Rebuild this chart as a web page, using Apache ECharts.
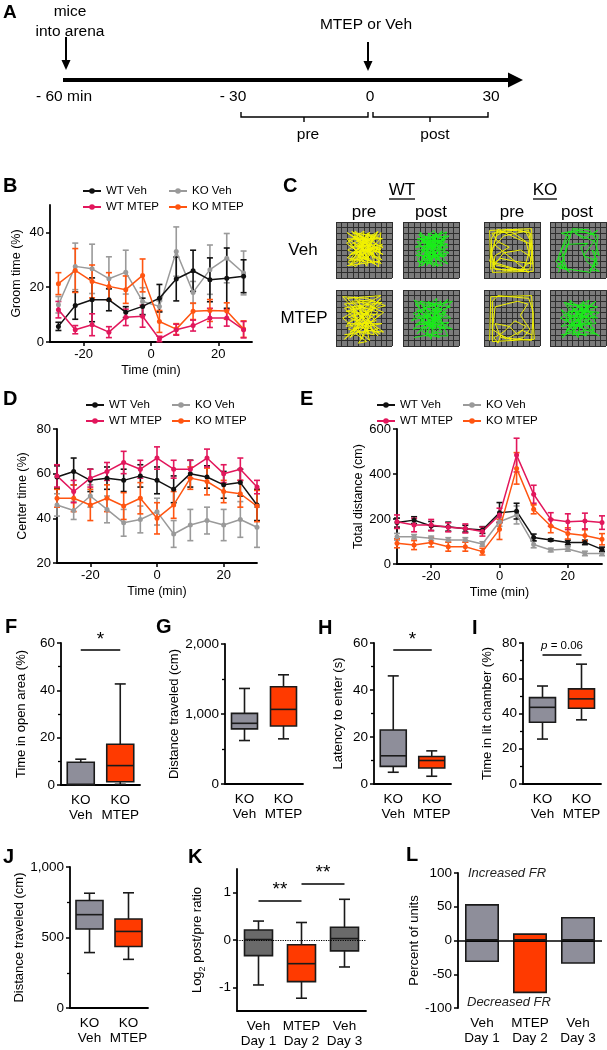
<!DOCTYPE html>
<html><head><meta charset="utf-8">
<script src="https://cdn.jsdelivr.net/npm/echarts@6/dist/echarts.min.js"></script>
<style>html,body{margin:0;padding:0;background:#fff}#c{width:607px;height:1050px}</style>
</head><body><div id="c"></div>
<script>
// ---------------- DATA ----------------
const aTickLabels = ['- 60 min', '- 30', '0', '30'];

// B: groom time (%)
const bTime = [-27.5, -22.5, -17.5, -12.5, -7.5, -2.5, 2.5, 7.5, 12.5, 17.5, 22.5, 27.5];
const bWtVeh = [5.7, 13.3, 15.4, 15.4, 10.9, 13.0, 16.0, 23.0, 26.0, 22.7, 23.3, 24.0];
const bWtVehErr = [1.5, 5, 8, 4, 2, 3, 5, 8, 7.5, 8, 11, 6];
const bKoVeh = [13.6, 27.6, 26.7, 23.1, 25.5, 14.8, 13.0, 33.0, 18.1, 26.4, 30.6, 25.2];
const bKoVehErr = [3, 8.5, 9, 8, 8, 5, 2, 9, 4, 9, 9, 8];
const bWtMtep = [11.8, 4.5, 6.3, 3.6, 9.0, 9.4, 1.1, 4.5, 6.0, 8.8, 8.8, 4.5];
const bWtMtepErr = [3, 1.5, 4, 2, 3, 4, 1, 2, 2, 3.5, 3, 3];
const bKoMtep = [21.3, 26.1, 22.1, 20.3, 19.1, 24.3, 7.5, 4.7, 11.2, 11.5, 11.3, 4.7];
const bKoMtepErr = [4, 8, 6, 5, 5, 6, 4, 2, 3, 4, 3, 3];

// D: center time (%)
const dTime = [-30, -25, -20, -15, -10, -5, 0, 5, 10, 15, 20, 25, 30];
const dWtVeh = [58.5, 61, 57, 58, 57, 59, 57, 53, 60, 58.5, 55, 56, 46];
const dWtVehErr = [5, 6, 5, 5, 5, 5, 6, 6, 6, 5, 6, 6, 7];
const dWtMtep = [59, 52, 58, 61, 65, 62, 67, 62, 62, 67, 60, 62, 54];
const dWtMtepErr = [5, 5, 4, 4, 5, 4, 5, 4, 4, 4, 4, 5, 3];
const dKoMtep = [49, 49, 46, 49, 45.5, 49, 40, 46, 58, 56.5, 52, 51, 45.5];
const dKoMtepErr = [4, 6, 7, 6, 6, 7, 7, 6, 5, 6, 5, 6, 7];
const dKoVeh = [46, 43.5, 50, 44, 38, 39.5, 43, 33, 37, 39, 37, 39.5, 36];
const dKoVehErr = [5, 4, 5, 6, 6, 6, 6, 6, 7, 6, 7, 8, 9];

// E: total distance (cm)
const eTime = [-30, -25, -20, -15, -10, -5, 0, 5, 10, 15, 20, 25, 30];
const eWtVeh = [184, 195, 169, 166, 157, 151, 228, 235, 118, 107, 96, 96, 65];
const eWtVehErr = [20, 15, 20, 20, 15, 15, 45, 35, 15, 5, 10, 10, 10];
const eWtMtep = [188, 173, 173, 163, 158, 144, 218, 484, 310, 198, 188, 191, 184];
const eWtMtepErr = [30, 30, 25, 20, 20, 20, 30, 75, 40, 30, 35, 35, 30];
const eKoMtep = [92, 84, 96, 77, 77, 55, 154, 425, 243, 169, 136, 127, 110];
const eKoMtepErr = [20, 20, 20, 20, 20, 15, 45, 70, 20, 30, 25, 25, 25];
const eKoVeh = [121, 121, 114, 107, 107, 89, 188, 218, 87, 62, 67, 47, 47];
const eKoVehErr = [15, 10, 10, 10, 10, 10, 20, 40, 15, 8, 10, 10, 10];

// Box plots: [min, Q1, median, Q3, max]
const koCats = ['KO\nVeh', 'KO\nMTEP'];
const fBoxes = [[0, 0, 0.3, 9.6, 10.9], [0.3, 1.4, 8.2, 17.2, 42.7]];
const gBoxes = [[621, 787, 867, 1009, 1365], [645, 829, 1066, 1389, 1560]];
const hBoxes = [[5, 7.5, 12, 23, 46], [3.3, 6.8, 10, 11.7, 14.1]];
const iBoxes = [[25.5, 35, 43.5, 49, 55.6], [36.4, 43, 48.3, 54, 68]];
const jBoxes = [[393, 560, 662, 762, 814], [345, 436, 543, 631, 817]];
const dayCats = ['Veh\nDay 1', 'MTEP\nDay 2', 'Veh\nDay 3'];
const kBoxes = [[-0.95, -0.33, 0.01, 0.21, 0.4], [-1.23, -0.88, -0.5, -0.1, 0.37], [-0.57, -0.23, 0.03, 0.27, 0.86]];
const lIncreased = [54, 10.6, 35];
const lDecreased = [-32, -78, -34.6];

// C: example trajectories (arena units 0-10)
const trWtVehPre = [[2.0,2.2],[7.8,3.0],[3.0,8.0],[7.2,7.6],[2.4,4.1],[8.3,6.0],[4.1,2.4],[5.0,8.4],[1.9,6.2],[7.6,2.0],[8.0,8.1],[3.1,3.0],[6.0,5.1],[2.0,8.1],[8.4,4.2],[4.0,6.1],[6.6,2.6],[3.0,5.5],[7.1,6.0],[2.6,2.4],[5.6,8.0],[8.0,5.0],[3.5,7.1],[6.0,3.0],[2.1,5.0],[7.5,8.3],[4.6,3.5],[8.1,2.6],[3.0,7.5],[6.1,6.6],[2.5,3.0],[5.0,5.0],[7.0,3.5],[4.0,8.0],[8.3,7.0],[2.0,7.0],[5.5,2.1],[6.5,7.5],[3.0,4.5],[7.5,5.5],[4.0,4.0],[6.0,8.2],[2.2,2.8],[3.5,2.0],[7.9,7.0],[2.3,6.8],[6.8,4.2],[4.5,7.6],[8.2,3.2],[3.2,6.2],[5.8,2.8],[2.0,3.6],[7.3,8.0],[4.8,4.5],[6.4,6.0],[2.8,8.3],[8.4,5.5],[3.8,3.2],[5.2,7.2],[7.0,2.4],[2.4,5.8],[6.0,7.8],[4.2,5.2],[8.0,4.6],[3.4,8.4],[5.6,3.8],[2.2,2.2]];
const trWtVehPost = [[2.5,3.0],[7.0,2.2],[4.0,7.5],[8.0,6.0],[2.2,5.5],[6.0,8.0],[5.0,2.5],[3.0,8.2],[7.8,4.0],[3.5,3.5],[6.5,6.5],[2.5,7.0],[8.2,7.5],[4.5,5.0],[7.0,3.0],[3.0,6.0],[5.5,8.5],[7.5,5.0],[2.8,2.0],[5.0,6.5],[8.0,2.5],[3.8,4.5],[6.2,2.0],[4.5,8.0],[7.2,7.0],[2.3,4.0],[6.0,4.0],[3.5,6.8],[7.8,8.2],[5.2,3.2],[2.5,6.5],[6.8,5.8],[4.2,2.2],[5.8,7.2],[3.2,5.0],[7.5,3.8],[4.8,6.0],[2.6,3.5],[3.0,2.5],[7.6,6.8],[4.2,6.5],[6.5,3.5],[2.8,7.8],[8.0,5.5],[5.0,4.5],[3.5,2.2],[7.0,8.4],[4.0,5.8],[6.2,6.0],[2.4,4.8],[5.5,2.0],[7.5,7.5],[3.2,3.0],[6.0,7.6],[4.6,3.8],[8.2,4.5],[3.0,7.0],[5.8,5.2]];
const trKoVehPre = [[1.2,1.5],[1.0,8.5],[8.5,8.8],[8.8,1.2],[1.5,1.0],[1.3,7.0],[2.0,8.2],[6.0,8.6],[8.3,8.0],[8.6,5.0],[8.2,1.6],[4.0,1.3],[1.6,1.8],[2.0,4.0],[4.5,5.5],[2.5,6.5],[1.4,8.0],[5.0,8.2],[7.5,6.5],[8.4,3.0],[6.5,1.5],[2.0,1.5],[1.2,5.0],[3.5,7.5],[8.0,8.5],[8.7,2.5],[5.5,3.0],[3.0,3.5],[1.5,2.5],[7.0,1.2],[8.5,6.0],[6.0,7.0],[2.5,8.7],[1.0,3.0],[5.0,1.8],[8.0,1.0],[1.8,6.0],[2.2,7.5],[4.0,8.7],[7.5,8.2],[8.2,6.8],[8.0,4.0],[6.5,5.0],[3.5,4.5],[2.0,2.5],[1.3,4.0]];
const trKoVehPost = [[1.5,1.0],[2.5,3.5],[1.2,2.0],[3.0,1.5],[2.0,5.0],[3.5,7.5],[2.0,8.0],[5.0,8.5],[7.5,7.8],[8.5,8.5],[6.0,7.0],[4.5,8.0],[8.0,6.5],[8.8,4.0],[7.5,5.0],[8.5,2.5],[7.0,1.5],[8.8,1.2],[6.5,3.0],[5.5,5.5],[6.8,6.2],[3.0,6.0],[2.2,2.5],[3.5,1.0],[1.0,3.0],[2.8,4.5],[4.0,8.8],[7.0,8.6],[8.2,7.0],[6.0,4.0],[8.0,3.2],[7.2,1.0],[1.8,1.8],[2.6,2.2],[1.4,3.5],[3.2,8.2],[6.2,8.2],[8.6,7.6],[7.8,2.0],[8.4,3.6]];
const trWtMtepPre = [[1.5,2.0],[7.5,3.0],[2.0,8.5],[8.0,9.0],[1.2,5.0],[6.0,1.0],[4.0,8.0],[8.5,6.0],[2.5,1.5],[5.0,5.0],[1.5,7.5],[7.0,8.0],[3.0,3.0],[8.2,4.0],[2.0,4.0],[6.5,6.5],[4.5,1.2],[3.0,7.0],[7.5,1.8],[1.2,8.8],[5.5,8.5],[8.8,7.2],[2.8,5.5],[6.0,3.5],[4.0,0.5],[5.5,0.8],[3.5,2.2],[7.8,5.5],[1.8,6.2],[5.0,7.0],[6.8,2.0],[2.2,3.0],[8.0,8.5],[4.2,4.0],[1.5,1.2],[6.2,5.0],[3.2,8.8],[7.0,6.8],[2.5,6.8],[5.2,2.8],[8.5,2.5],[3.8,5.8],[1.8,3.5],[7.2,4.5],[2.8,8.0],[6.5,8.2],[4.5,6.2],[7.8,2.2],[2.2,5.2],[5.8,6.0],[3.5,4.2],[8.2,7.8],[1.5,6.8],[6.0,2.2],[4.0,7.2],[7.5,6.0],[2.5,2.5],[5.0,3.8]];
const trWtMtepPost = [[2.0,1.5],[7.0,2.5],[3.0,8.0],[8.5,7.0],[1.5,4.5],[6.0,8.5],[5.0,1.2],[2.5,6.5],[8.8,3.0],[4.0,4.0],[7.5,5.5],[2.0,8.2],[6.5,1.5],[3.5,2.5],[8.0,8.3],[5.0,6.0],[1.8,3.0],[7.2,4.0],[4.5,8.0],[8.5,5.0],[3.0,5.0],[6.0,3.0],[2.2,7.5],[5.5,7.5],[8.0,1.8],[4.0,1.8],[7.0,7.0],[2.5,2.2],[6.2,5.0],[3.8,6.8],[8.8,8.0],[5.0,3.5],[1.8,5.8],[6.8,8.0],[4.5,2.8],[7.8,6.2],[3.2,3.8],[2.8,4.2],[7.5,3.0],[4.2,6.0],[6.5,6.8],[2.2,3.8],[8.2,4.2],[5.5,2.2],[3.5,7.2],[6.8,4.5],[4.8,5.2],[2.5,5.5]];
const trKoMtepPre = [[1.0,1.0],[1.2,8.8],[8.5,9.0],[9.0,1.2],[1.5,0.8],[1.5,8.0],[2.5,9.0],[8.0,8.5],[8.8,6.0],[8.5,1.0],[3.0,1.5],[2.0,4.0],[4.5,3.5],[6.0,2.0],[7.5,3.5],[5.5,4.5],[3.5,2.5],[1.8,1.5],[2.5,0.5],[3.0,2.0],[5.0,1.0],[7.0,1.5],[8.2,3.0],[6.5,5.5],[7.8,7.5],[6.0,8.0],[2.0,7.0],[1.5,3.0],[4.0,1.2],[6.8,2.8],[8.5,2.0]];
const trKoMtepPost = [[2.0,2.0],[8.0,3.0],[3.0,7.5],[8.5,7.0],[2.5,4.5],[6.0,8.0],[5.0,1.5],[2.0,6.5],[8.8,1.8],[4.0,4.0],[7.0,5.5],[3.5,8.2],[6.5,1.8],[3.0,3.0],[8.2,8.0],[5.0,6.0],[2.0,3.5],[7.5,4.2],[4.5,7.5],[8.5,5.0],[3.0,5.5],[6.0,3.0],[2.5,7.8],[5.5,7.0],[8.0,2.2],[4.0,2.0],[7.0,7.2],[2.2,1.5],[6.5,5.0],[4.0,6.5],[8.8,6.0],[5.0,3.5],[1.8,5.0],[7.0,8.2],[4.5,2.8],[3.2,6.2],[7.8,6.0],[5.2,4.8],[2.8,2.5],[6.2,7.5],[8.2,4.0],[3.8,3.5]];

// ---------------- STYLE / LAYOUT ----------------
const FONT = 'Liberation Sans, Arial, Helvetica, sans-serif';
const COL = {'KO Veh': '#9a9a9a', 'WT Veh': '#111111', 'KO MTEP': '#ff5511', 'WT MTEP': '#e2175c'};
const BOX_GRAY = '#8e8e9a', BOX_DARK = '#6a6a6a', BOX_ORANGE = '#ff3a00';

function merge(a, b) {
  const o = Object.assign({}, a);
  for (const k in b) {
    const v = b[k];
    if (v && typeof v === 'object' && !Array.isArray(v) && a[k] && typeof a[k] === 'object' && !Array.isArray(a[k])) o[k] = merge(a[k], v);
    else o[k] = v;
  }
  return o;
}
const baseAxis = {
  axisLine: {show: true, onZero: false, lineStyle: {color: '#000', width: 1.8}},
  axisTick: {show: true, length: 4, lineStyle: {color: '#000', width: 1.5}},
  axisLabel: {color: '#000', fontSize: 13, fontFamily: FONT, margin: 6},
  splitLine: {show: false},
  nameLocation: 'middle',
  nameTextStyle: {color: '#000', fontSize: 12.5, fontFamily: FONT}
};
const minor = {show: true, splitNumber: 2, length: 3, lineStyle: {color: '#000', width: 1.3}};
const thousands = v => v === 0 ? '0' : v.toLocaleString('en-US');

const grids = [
  {left: 50, top: 205, width: 202, height: 137},   // 0 B
  {left: 57, top: 429, width: 200, height: 134},   // 1 D
  {left: 397, top: 429, width: 205, height: 135},  // 2 E
  {left: 61, top: 643, width: 79, height: 142},    // 3 F
  {left: 225, top: 644, width: 78, height: 140},   // 4 G
  {left: 374, top: 643, width: 77, height: 141},   // 5 H
  {left: 523, top: 643, width: 78, height: 141},   // 6 I
  {left: 70, top: 867, width: 78, height: 141},    // 7 J
  {left: 237, top: 869, width: 129, height: 142},  // 8 K
  {left: 458, top: 873, width: 144, height: 135}   // 9 L
];
const cPos = [[336, 222], [403, 222], [484, 222], [550, 222], [336, 290], [403, 290], [484, 290], [550, 290]];
const cTracks = [trWtVehPre, trWtVehPost, trKoVehPre, trKoVehPost, trWtMtepPre, trWtMtepPost, trKoMtepPre, trKoMtepPost];
const cColors = ['#f2f200', '#19ee19', '#f2f200', '#19ee19', '#f2f200', '#19ee19', '#f2f200', '#19ee19'];
cPos.forEach(p => grids.push({left: p[0], top: p[1], width: 56, height: 56, show: true, backgroundColor: '#7b7b7b', borderWidth: 0}));
grids.forEach(g => { g.outerBoundsMode = 'none'; g.containLabel = false; });

const xAxes = [], yAxes = [];
function timeX(gi) {
  return merge(baseAxis, {type: 'value', gridIndex: gi, min: -30, max: 30, interval: 10,
    axisTick: {customValues: [-20, 0, 20]},
    axisLabel: {customValues: [-20, 0, 20], formatter: v => (v % 20 === 0 ? String(v) : '')},
    name: 'Time (min)', nameGap: 22});
}
xAxes.push(timeX(0));
yAxes.push(merge(baseAxis, {type: 'value', gridIndex: 0, min: 0, max: 50, interval: 10,
  axisTick: {customValues: [0, 20, 40]}, axisLabel: {customValues: [0, 20, 40], formatter: v => (v % 20 === 0 ? String(v) : '')},
  name: 'Groom time (%)', nameGap: 27}));
xAxes.push(timeX(1));
yAxes.push(merge(baseAxis, {type: 'value', gridIndex: 1, min: 20, max: 80, interval: 20, name: 'Center time (%)', nameGap: 28}));
xAxes.push(timeX(2));
yAxes.push(merge(baseAxis, {type: 'value', gridIndex: 2, min: 0, max: 600, interval: 200, name: 'Total distance (cm)', nameGap: 31}));

function catX(gi, cats) {
  return merge(baseAxis, {type: 'category', gridIndex: gi, data: cats, axisTick: {show: false},
    axisLabel: {fontSize: 13.5, lineHeight: 15, margin: 8, interval: 0, hideOverlap: false}});
}
function boxY(gi, min, max, interval, name, gap, extra) {
  return merge(merge(baseAxis, {type: 'value', gridIndex: gi, min, max, interval, minorTick: minor, name, nameGap: gap,
    axisLabel: {fontSize: 13.5}, nameTextStyle: {fontSize: 13}}), extra || {});
}
xAxes.push(catX(3, koCats)); yAxes.push(boxY(3, 0, 60, 20, 'Time in open area (%)', 33));
xAxes.push(catX(4, koCats)); yAxes.push(boxY(4, 0, 2000, 1000, 'Distance traveled (cm)', 41, {axisLabel: {formatter: thousands}}));
xAxes.push(catX(5, koCats)); yAxes.push(boxY(5, 0, 60, 20, 'Latency to enter (s)', 29));
xAxes.push(catX(6, koCats)); yAxes.push(boxY(6, 0, 80, 20, 'Time in lit chamber (%)', 29));
xAxes.push(catX(7, koCats)); yAxes.push(boxY(7, 0, 1000, 500, 'Distance traveled (cm)', 40, {axisLabel: {formatter: thousands}}));
xAxes.push(catX(8, dayCats));
yAxes.push(boxY(8, -1.5, 1.5, 0.5, 'Log{s|2} post/pre ratio', 30, {
  minorTick: {show: false},
  axisTick: {customValues: [-1, 0, 1]}, axisLabel: {customValues: [-1, 0, 1], formatter: v => String(v)},
  nameTextStyle: {rich: {s: {fontSize: 9, verticalAlign: 'bottom', lineHeight: 19, fontFamily: FONT, color: '#000'}}}}));
xAxes.push(merge(catX(9, dayCats), {axisLine: {show: false}}));
yAxes.push(boxY(9, -100, 100, 50, 'Percent of units', 28, {minorTick: {show: false}}));
cPos.forEach((p, i) => {
  const ax = {type: 'value', gridIndex: 10 + i, min: 0, max: 10, interval: 1, axisLine: {show: false}, axisTick: {show: false},
    axisLabel: {show: false}, splitLine: {show: true, lineStyle: {color: '#2e2e2e', width: 1}}};
  xAxes.push(Object.assign({}, ax)); yAxes.push(Object.assign({}, ax));
});

// ---------------- SERIES ----------------
function errItem(params, api) {
  const x = api.value(0), a = api.coord([x, api.value(1)]), b = api.coord([x, api.value(2)]);
  const st = {stroke: api.visual('color'), lineWidth: 1.6}, w = 3;
  return {type: 'group', children: [
    {type: 'line', shape: {x1: a[0], y1: a[1], x2: b[0], y2: b[1]}, style: st},
    {type: 'line', shape: {x1: a[0] - w, y1: a[1], x2: a[0] + w, y2: a[1]}, style: st},
    {type: 'line', shape: {x1: b[0] - w, y1: b[1], x2: b[0] + w, y2: b[1]}, style: st}]};
}
function boxItem(bw, cw) {
  return function (params, api) {
    const i = api.value(0);
    const y = [1, 2, 3, 4, 5].map(k => api.coord([i, api.value(k)])[1]);
    const x = api.coord([i, api.value(3)])[0];
    const h = bw / 2, c = cw / 2;
    const st = {stroke: '#1a1a1a', lineWidth: 1.6};
    return {type: 'group', children: [
      {type: 'line', shape: {x1: x, y1: y[4], x2: x, y2: y[3]}, style: st},
      {type: 'line', shape: {x1: x, y1: y[1], x2: x, y2: y[0]}, style: st},
      {type: 'line', shape: {x1: x - c, y1: y[4], x2: x + c, y2: y[4]}, style: st},
      {type: 'line', shape: {x1: x - c, y1: y[0], x2: x + c, y2: y[0]}, style: st},
      {type: 'rect', shape: {x: x - h, y: y[3], width: bw, height: y[1] - y[3]}, style: {fill: api.visual('color'), stroke: '#1a1a1a', lineWidth: 1.6}},
      {type: 'line', shape: {x1: x - h, y1: y[2], x2: x + h, y2: y[2]}, style: st}]};
  };
}
const series = [];
function timePanel(ax, t, groups) {
  groups.forEach(g => {
    const c = COL[g.name];
    series.push({type: 'custom', name: g.name + ' sem', xAxisIndex: ax, yAxisIndex: ax, renderItem: errItem,
      itemStyle: {color: c}, encode: {x: 0, y: [1, 2]}, silent: true,
      data: t.map((x, i) => [x, g.v[i] - g.e[i], g.v[i] + g.e[i]])});
    series.push({type: 'line', name: g.name, xAxisIndex: ax, yAxisIndex: ax, data: t.map((x, i) => [x, g.v[i]]),
      symbol: 'circle', symbolSize: 5, showSymbol: true, lineStyle: {color: c, width: 1.5}, itemStyle: {color: c}, silent: true});
  });
}
timePanel(0, bTime, [{name: 'KO Veh', v: bKoVeh, e: bKoVehErr}, {name: 'WT Veh', v: bWtVeh, e: bWtVehErr},
  {name: 'KO MTEP', v: bKoMtep, e: bKoMtepErr}, {name: 'WT MTEP', v: bWtMtep, e: bWtMtepErr}]);
timePanel(1, dTime, [{name: 'KO Veh', v: dKoVeh, e: dKoVehErr}, {name: 'WT Veh', v: dWtVeh, e: dWtVehErr},
  {name: 'KO MTEP', v: dKoMtep, e: dKoMtepErr}, {name: 'WT MTEP', v: dWtMtep, e: dWtMtepErr}]);
timePanel(2, eTime, [{name: 'KO Veh', v: eKoVeh, e: eKoVehErr}, {name: 'WT Veh', v: eWtVeh, e: eWtVehErr},
  {name: 'KO MTEP', v: eKoMtep, e: eKoMtepErr}, {name: 'WT MTEP', v: eWtMtep, e: eWtMtepErr}]);

function boxPanel(ax, boxes, colors, bw, cw) {
  series.push({type: 'custom', name: 'box' + ax, xAxisIndex: ax, yAxisIndex: ax, renderItem: boxItem(bw, cw),
    encode: {x: 0, y: [1, 2, 3, 4, 5]}, silent: true,
    data: boxes.map((b, i) => ({value: [i].concat(b), itemStyle: {color: colors[i]}}))});
}
boxPanel(3, fBoxes, [BOX_GRAY, BOX_ORANGE], 27, 11);
boxPanel(4, gBoxes, [BOX_GRAY, BOX_ORANGE], 26, 11);
boxPanel(5, hBoxes, [BOX_GRAY, BOX_ORANGE], 26, 11);
boxPanel(6, iBoxes, [BOX_GRAY, BOX_ORANGE], 26, 11);
boxPanel(7, jBoxes, [BOX_GRAY, BOX_ORANGE], 27, 11);
boxPanel(8, kBoxes, [BOX_DARK, BOX_ORANGE, BOX_DARK], 28, 11);

function sigLines(ax, lines, extraLabel) {
  series.push({type: 'line', name: 'sig' + ax, xAxisIndex: ax, yAxisIndex: ax, data: [], silent: true,
    markLine: {silent: true, symbol: ['none', 'none'], animation: false,
      lineStyle: {color: '#000', type: 'solid', width: 1.6},
      label: Object.assign({show: true, position: 'middle', color: '#000', fontFamily: FONT, fontSize: 19, distance: 1}, extraLabel || {}),
      data: lines.map(l => [{coord: [l[0], l[2]], label: {formatter: l[3]}}, {coord: [l[1], l[2]]}])}});
}
sigLines(3, [[0, 1, 57, '*']]);
sigLines(5, [[0, 1, 57, '*']]);
sigLines(6, [[0, 1, 73.2, '{i|p} = 0.06']], {fontSize: 11.5, distance: 3, rich: {i: {fontStyle: 'italic', fontSize: 11.5, fontFamily: FONT, color: '#000'}}});
sigLines(8, [[0, 1, 0.83, '**'], [1, 2, 1.19, '**']]);
series.push({type: 'line', name: 'kzero', xAxisIndex: 8, yAxisIndex: 8, data: [], silent: true, z: 1,
  markLine: {silent: true, symbol: ['none', 'none'], label: {show: false}, animation: false,
    lineStyle: {color: '#000', type: 'dotted', width: 1.2}, data: [{yAxis: 0}]}});

const lColors = [BOX_GRAY, BOX_ORANGE, BOX_GRAY];
const barStyle = {borderColor: '#1a1a1a', borderWidth: 1.6};
series.push({type: 'bar', name: 'Increased', xAxisIndex: 9, yAxisIndex: 9, stack: 'L', barWidth: 34, silent: true,
  data: lIncreased.map((v, i) => ({value: v, itemStyle: Object.assign({color: lColors[i]}, barStyle)}))});
series.push({type: 'bar', name: 'Decreased', xAxisIndex: 9, yAxisIndex: 9, stack: 'L', barWidth: 34, silent: true,
  data: lDecreased.map((v, i) => ({value: v, itemStyle: Object.assign({color: lColors[i]}, barStyle)})),
  markLine: {silent: true, symbol: ['none', 'none'], label: {show: false}, animation: false, z: 5,
    lineStyle: {color: '#000', type: 'solid', width: 1.6}, data: [{yAxis: 0}]}});

cTracks.forEach((tr, i) => {
  series.push({type: 'line', name: 'track' + i, xAxisIndex: 10 + i, yAxisIndex: 10 + i, data: tr, symbol: 'none',
    showSymbol: false, silent: true, lineStyle: {color: cColors[i], width: 1}});
});

// ---------------- GRAPHICS (schematic A, labels) ----------------
const g = [];
function txt(x, y, text, size, opts) {
  g.push({type: 'text', x, y, silent: true, style: Object.assign({text, fontSize: size, fontFamily: FONT, fill: '#000',
    align: 'center', verticalAlign: 'middle'}, opts || {})});
}
function ln(x1, y1, x2, y2, w) { g.push({type: 'line', silent: true, shape: {x1, y1, x2, y2}, style: {stroke: '#000', lineWidth: w}}); }
function poly(points) { g.push({type: 'polygon', silent: true, shape: {points}, style: {fill: '#000'}}); }
function pline(points, w) { g.push({type: 'polyline', silent: true, shape: {points}, style: {stroke: '#000', lineWidth: w, fill: null}}); }

// panel letters
[['A', 3, 13, 19], ['B', 3, 186, 20], ['C', 283, 186, 20], ['D', 3, 399, 20], ['E', 300, 399, 20],
 ['F', 5, 627, 20], ['G', 156, 627, 20], ['H', 318, 628, 20], ['I', 472, 628, 20],
 ['J', 3, 857, 20], ['K', 188, 857, 20], ['L', 406, 855, 20]].forEach(l =>
  txt(l[1], l[2], l[0], l[3], {align: 'left', fontWeight: 'bold'}));

// panel A timeline
txt(70, 12, 'mice', 15.5); txt(70, 32, 'into arena', 15.5);
ln(66, 37, 66, 62, 2); poly([[61.5, 60], [70.5, 60], [66, 70]]);
txt(366, 25, 'MTEP or Veh', 15.5);
ln(368, 42, 368, 62, 2); poly([[363.5, 61], [372.5, 61], [368, 71]]);
ln(63, 80, 511, 80, 4); poly([[508, 72.5], [523, 80], [508, 87.5]]);
[64, 233, 370, 491].forEach((x, i) => txt(x, 97, aTickLabels[i], 15.5));
pline([[241, 112], [241, 117], [368, 117], [368, 112]], 1.4); ln(304, 117, 304, 122, 1.4);
pline([[373, 112], [373, 117], [488, 117], [488, 112]], 1.4); ln(430, 117, 430, 122, 1.4);
txt(308, 135, 'pre', 15.5); txt(435, 135, 'post', 15.5);

// panel C labels
txt(402, 190, 'WT', 17); ln(389, 199, 415, 199, 1.3);
txt(545, 190, 'KO', 17); ln(533, 199, 557, 199, 1.3);
txt(364, 212, 'pre', 17); txt(431, 212, 'post', 17); txt(512, 212, 'pre', 17); txt(577, 212, 'post', 17);
txt(303, 250, 'Veh', 17); txt(304, 318, 'MTEP', 17);

// panel L annotations
txt(468, 873, 'Increased FR', 13, {align: 'left', fontStyle: 'italic', fill: '#222'});
txt(467, 1002, 'Decreased FR', 13, {align: 'left', fontStyle: 'italic', fill: '#222'});

const legStyle = {orient: 'vertical', itemWidth: 18, itemHeight: 7, itemGap: 4, selectedMode: false, padding: 0,
  textStyle: {fontSize: 11.5, color: '#000', fontFamily: FONT}};
const legends = [];
[[82, 168, 185], [85, 171, 399], [376, 462, 399]].forEach(p => {
  legends.push(Object.assign({left: p[0], top: p[2], data: ['WT Veh', 'WT MTEP']}, legStyle));
  legends.push(Object.assign({left: p[1], top: p[2], data: ['KO Veh', 'KO MTEP']}, legStyle));
});

const chart = echarts.init(document.getElementById('c'), null, {renderer: 'canvas'});
chart.setOption({
  animation: false,
  backgroundColor: '#fff',
  textStyle: {fontFamily: FONT},
  grid: grids, xAxis: xAxes, yAxis: yAxes, series, legend: legends, graphic: g
});
</script></body></html>
